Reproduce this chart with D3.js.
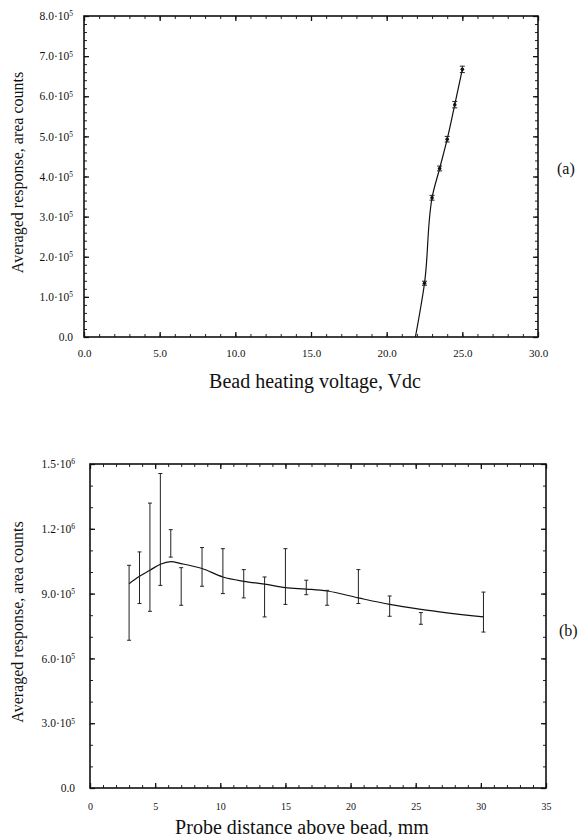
<!DOCTYPE html>
<html lang="en">
<head>
    <meta charset="UTF-8">
    <title>Bead response</title>
    <script src="https://d3js.org/d3.v7.min.js"></script>
    <style>
        body { margin: 0; background: white; }
        svg { display: block; font-family: "Liberation Serif", "Times New Roman", serif; }
        .tick text { font-family: "Liberation Serif", serif; fill: #111; }
        .frame { fill: none; stroke: #111; stroke-width: 1.6; }
        .curve { fill: none; stroke: #111; stroke-width: 1.2; }
        .err { stroke: #222; stroke-width: 1; }
        .title { font-size: 20px; fill: #111; }
        .ytitle { font-size: 16px; fill: #111; }
    </style>
</head>
<body>
<svg width="585" height="837"></svg>
<script>
// panel (a): response vs bead heating voltage
const voltage = [21.9, 22.5, 23.0, 23.5, 24.0, 24.5, 25.0];
const responseA = [0, 1.34e5, 3.47e5, 4.20e5, 4.93e5, 5.79e5, 6.67e5];
const errA = [0, 0.05e5, 0.06e5, 0.06e5, 0.07e5, 0.08e5, 0.08e5];
const xTicksA = [0, 5, 10, 15, 20, 25, 30];
const yTicksA = [0, 1e5, 2e5, 3e5, 4e5, 5e5, 6e5, 7e5, 8e5];
const yLabelsA = ["0.0", "1.0·10|5", "2.0·10|5", "3.0·10|5", "4.0·10|5", "5.0·10|5", "6.0·10|5", "7.0·10|5", "8.0·10|5"];

// panel (b): response vs probe distance
const distance = [3.0, 3.8, 4.6, 5.4, 6.2, 7.0, 8.6, 10.2, 11.8, 13.4, 15.0, 16.6, 18.2, 20.6, 23.0, 25.4, 30.2];
const lowB = [0.684, 0.854, 0.818, 0.938, 1.069, 0.846, 0.934, 0.900, 0.880, 0.792, 0.850, 0.895, 0.846, 0.854, 0.795, 0.758, 0.722];
const highB = [1.031, 1.093, 1.319, 1.456, 1.196, 1.020, 1.113, 1.108, 1.011, 0.977, 1.108, 0.962, 0.915, 1.011, 0.889, 0.812, 0.907];
const fitB = [0.946, 0.980, 1.008, 1.036, 1.048, 1.039, 1.016, 0.977, 0.957, 0.944, 0.928, 0.921, 0.912, 0.880, 0.850, 0.827, 0.792];
const xTicksB = [0, 5, 10, 15, 20, 25, 30, 35];
const yTicksB = [0, 3e5, 6e5, 9e5, 1.2e6, 1.5e6];
const yLabelsB = ["0.0", "3.0·10|5", "6.0·10|5", "9.0·10|5", "1.2·10|6", "1.5·10|6"];

const svg = d3.select("svg");

function panel(opt) {
    const g = svg.append("g");
    const x = d3.scaleLinear().domain(opt.xDomain).range([opt.left, opt.right]);
    const y = d3.scaleLinear().domain(opt.yDomain).range([opt.bottom, opt.top]);

    // minor ticks, inward on all four sides
    const minorX = d3.range(opt.xDomain[0], opt.xDomain[1] + 1e-9, opt.xMinor);
    const minorY = d3.range(opt.yDomain[0], opt.yDomain[1] + 1, opt.yMinor);
    const axes = [
        [d3.axisBottom(x), `translate(0,${opt.bottom})`, minorX, opt.xMajor],
        [d3.axisTop(x), `translate(0,${opt.top})`, minorX, opt.xMajor],
        [d3.axisLeft(y), `translate(${opt.left},0)`, minorY, opt.yMajor],
        [d3.axisRight(y), `translate(${opt.right},0)`, minorY, opt.yMajor]
    ];
    axes.forEach(([ax, tr, minor, major]) => {
        g.append("g").attr("transform", tr)
            .call(ax.tickValues(minor).tickSize(-3).tickFormat(""))
            .call(s => s.select(".domain").remove())
            .selectAll("line").attr("stroke", "#222");
        g.append("g").attr("transform", tr)
            .call(ax.tickValues(major).tickSize(-5).tickFormat(""))
            .call(s => s.select(".domain").remove())
            .selectAll("line").attr("stroke", "#111").attr("stroke-width", 1.3);
    });

    // labelled axes
    g.append("g").attr("transform", `translate(0,${opt.bottom})`)
        .call(d3.axisBottom(x).tickValues(opt.xMajor).tickSize(0).tickPadding(opt.xPad)
            .tickFormat(opt.xFormat))
        .call(s => s.select(".domain").remove())
        .selectAll("text").style("font-size", opt.xFont + "px");

    const ya = g.append("g").attr("transform", `translate(${opt.left},0)`)
        .call(d3.axisLeft(y).tickValues(opt.yMajor).tickSize(0).tickPadding(opt.yPad)
            .tickFormat((d, i) => opt.yLabels[i]))
        .call(s => s.select(".domain").remove());
    ya.selectAll("text").style("font-size", "11.5px").each(function () {
        const t = d3.select(this);
        const parts = t.text().split("|");
        t.text(parts[0]);
        if (parts[1]) {
            t.append("tspan").attr("dy", "-0.5em").style("font-size", "7.5px").text(parts[1]);
        }
    });

    g.append("rect").attr("class", "frame")
        .attr("x", opt.left).attr("y", opt.top)
        .attr("width", opt.right - opt.left).attr("height", opt.bottom - opt.top);

    g.append("text").attr("class", "title")
        .attr("x", (opt.left + opt.right) / 2 + opt.titleShift).attr("y", opt.titleY)
        .attr("text-anchor", "middle").text(opt.xTitle);

    g.append("text").attr("class", "ytitle")
        .attr("transform", `translate(23,${(opt.top + opt.bottom) / 2 - 4}) rotate(-90)`)
        .attr("text-anchor", "middle").text("Averaged response, area counts");

    g.append("text").attr("class", "title").style("font-size", "16px")
        .attr("x", opt.tagX).attr("y", opt.tagY).text(opt.tag);

    return { g, x, y };
}

// ---- (a) ----
const A = panel({
    left: 84, right: 538, top: 16, bottom: 337,
    xDomain: [0, 30], yDomain: [0, 8e5],
    xMajor: xTicksA, xMinor: 1, yMajor: yTicksA, yMinor: 0.2e5,
    yLabels: yLabelsA, xFormat: d3.format(".1f"), xFont: 11, xPad: 12, yPad: 11,
    xTitle: "Bead heating voltage, Vdc", titleY: 388, titleShift: 4,
    tag: "(a)", tagX: 557, tagY: 174
});

const ptsA = voltage.map((v, i) => ({ x: v, y: responseA[i], e: errA[i] }));
A.g.append("path").datum(ptsA).attr("class", "curve")
    .attr("d", d3.line().x(d => A.x(d.x)).y(d => A.y(d.y)).curve(d3.curveMonotoneY));

const ebA = A.g.selectAll(".ebA").data(ptsA.filter(d => d.e > 0)).enter().append("g");
ebA.append("line").attr("class", "err")
    .attr("x1", d => A.x(d.x)).attr("x2", d => A.x(d.x))
    .attr("y1", d => A.y(d.y - d.e)).attr("y2", d => A.y(d.y + d.e));
[-1, 1].forEach(s => {
    ebA.append("line").attr("class", "err")
        .attr("x1", d => A.x(d.x) - 2.5).attr("x2", d => A.x(d.x) + 2.5)
        .attr("y1", d => A.y(d.y + s * d.e)).attr("y2", d => A.y(d.y + s * d.e));
});
ebA.append("circle").attr("cx", d => A.x(d.x)).attr("cy", d => A.y(d.y))
    .attr("r", 1.8).attr("fill", "#111");

// ---- (b) ----
const B = panel({
    left: 90, right: 546, top: 464, bottom: 788,
    xDomain: [0, 35], yDomain: [0, 1.5e6],
    xMajor: xTicksB, xMinor: 1, yMajor: yTicksB, yMinor: 1e5,
    yLabels: yLabelsB, xFormat: d3.format("d"), xFont: 10, xPad: 15, yPad: 15,
    xTitle: "Probe distance above bead, mm", titleY: 834, titleShift: -16,
    tag: "(b)", tagX: 559, tagY: 636
});

const ptsB = distance.map((d, i) => ({ x: d, lo: lowB[i] * 1e6, hi: highB[i] * 1e6, fit: fitB[i] * 1e6 }));
B.g.append("path").datum(ptsB).attr("class", "curve")
    .attr("d", d3.line().x(d => B.x(d.x)).y(d => B.y(d.fit)).curve(d3.curveMonotoneX));

const ebB = B.g.selectAll(".ebB").data(ptsB).enter().append("g");
ebB.append("line").attr("class", "err")
    .attr("x1", d => B.x(d.x)).attr("x2", d => B.x(d.x))
    .attr("y1", d => B.y(d.lo)).attr("y2", d => B.y(d.hi));
["lo", "hi"].forEach(k => {
    ebB.append("line").attr("class", "err")
        .attr("x1", d => B.x(d.x) - 2).attr("x2", d => B.x(d.x) + 2)
        .attr("y1", d => B.y(d[k])).attr("y2", d => B.y(d[k]));
});
</script>
</body>
</html>
